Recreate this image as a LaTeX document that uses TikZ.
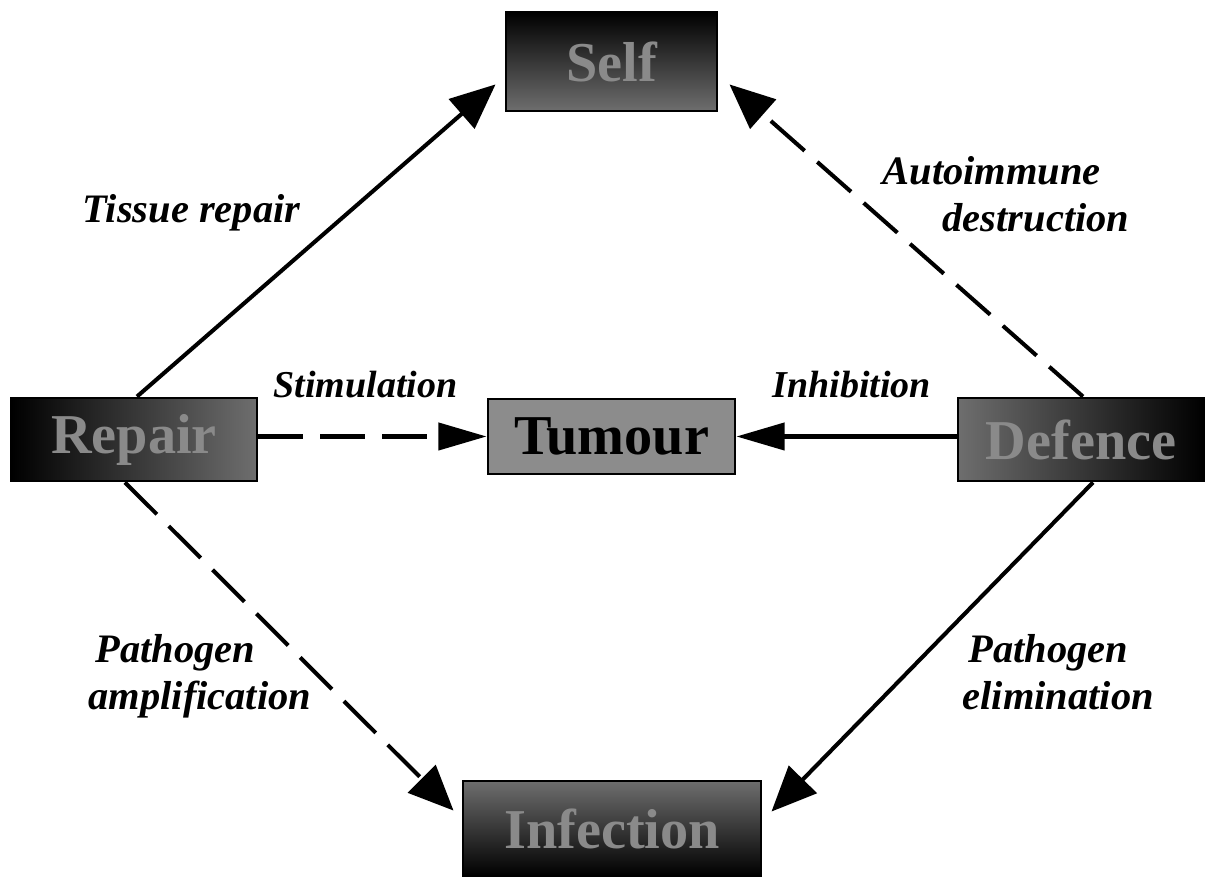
\documentclass[tikz,border=0pt]{standalone}
\usepackage{fontspec}
\setmainfont{Liberation Serif}
\usetikzlibrary{arrows.meta}
\definecolor{shadegray}{HTML}{6E6E6E}
\definecolor{tumourgray}{HTML}{8C8C8C}
\definecolor{boxtext}{HTML}{8A8A8A}
\begin{document}
\begin{tikzpicture}[x=0.01cm,y=-0.01cm,
  box/.style={draw=black, line width=0.8pt, inner sep=0pt, text=boxtext,
    font=\fontsize{16}{16}\selectfont\bfseries},
  conn/.style={line width=1.15pt},
  dsh/.style={conn, dash pattern=on 12.8pt off 4.8pt},
  diagtip/.style={-{Triangle[length=12.8pt,width=11pt]}},
  horiztip/.style={-{Triangle[length=13.7pt,width=7.7pt]}},
  lab/.style={inner sep=0pt, font=\fontsize{11.5}{13.4}\selectfont\bfseries\itshape},
  smalllab/.style={inner sep=0pt, font=\fontsize{10.8}{12}\selectfont\bfseries\itshape}]
\useasboundingbox (0,0) rectangle (1208,877);

% boxes
\node[box, minimum width=2.11cm, minimum height=0.99cm,
      top color=black, bottom color=shadegray] (self) at (611.5,61.5) {Self};
\node[box, minimum width=2.46cm, minimum height=0.83cm,
      left color=black, right color=shadegray] (repair) at (134,439.5) {Repair};
\node[box, minimum width=2.47cm, minimum height=0.75cm,
      fill=tumourgray, text=black] (tumour) at (611.5,436.5) {Tumour};
\node[box, minimum width=2.46cm, minimum height=0.83cm,
      left color=shadegray, right color=black] (defence) at (1081,439.5) {Defence};
\node[box, minimum width=2.98cm, minimum height=0.95cm,
      top color=shadegray, bottom color=black] (infection) at (612,828.5) {Infection};

% connectors
\draw[conn, diagtip] ([shift={(3,0)}]repair.north) -- ([shift={(-9,-28)}]self.south west);
\draw[dsh, diagtip] ([shift={(2,0)}]defence.north) -- ([shift={(11,-28)}]self.south east);
\draw[dsh, horiztip] (repair.east |- tumour.west) -- (tumour.west);
\draw[conn, horiztip] (defence.west |- tumour.east) -- (tumour.east);
\draw[dsh, diagtip] ([shift={(-9,0)}]repair.south) -- ([shift={(-8,31)}]infection.north west);
\draw[conn, diagtip] ([shift={(12,0)}]defence.south) -- ([shift={(9,32)}]infection.north east);

% labels
\node[lab, anchor=base west] (ltissue) at (82,223) {Tissue repair};
\node[lab, anchor=base west] (lauto) at (882,185) {Autoimmune};
\node[lab, anchor=base west] (ldestr) at (942,232) {destruction};
\node[smalllab, anchor=base west] (lstim) at (273,398) {Stimulation};
\node[smalllab, anchor=base west] (linhib) at (772,398) {Inhibition};
\node[lab, anchor=base west] (lpath1) at (95,663) {Pathogen};
\node[lab, anchor=base west] (lampl) at (88,710) {amplification};
\node[lab, anchor=base west] (lpath2) at (968,663) {Pathogen};
\node[lab, anchor=base west] (lelim) at (962,710) {elimination};
\end{tikzpicture}
\end{document}
